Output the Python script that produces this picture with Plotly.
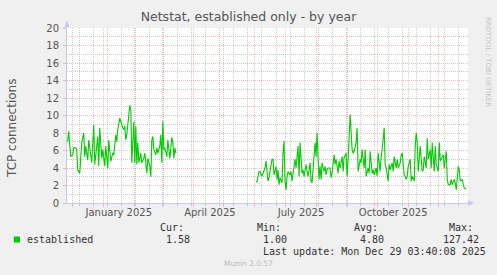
import plotly.graph_objects as go
import pandas as pd

# ---- data ----
# day offsets from 2024-12-01, and daily established TCP connections
day_offset = [
    -5, -4, -2, 0, 1, 3, 4, 5, 7, 9,
    11, 12, 13, 15, 16, 17, 19, 21, 22, 25,
    26, 27, 29, 30, 32, 33, 35, 36, 38, 40,
    41, 43, 44, 45, 47, 50, 51, 52, 53, 54,
    57, 58, 59, 61, 62, 63, 64, 65, 66, 68,
    69, 71, 72, 74, 75, 77, 78, 79, 80, 81,
    83, 84, 85, 87, 88, 89, 90, 91, 92, 94,
    95, 97, 98, 99, 100, 101, 102, 103,
    140,
    183, 184, 186, 187, 189, 191, 192, 193, 195, 196,
    197, 199, 200, 201, 203, 204, 205, 206, 207, 209,
    210, 211, 212, 213, 214, 215, 217, 218, 219, 221,
    222, 223, 225, 226, 227, 229, 230, 231, 233, 234,
    235, 237, 238, 239, 241, 242, 243, 244, 245, 246,
    247, 248, 249, 250, 251, 252, 253, 254, 255, 257,
    258, 259, 261, 262, 263, 265, 266, 267, 269, 270,
    271, 273, 274, 275, 276, 277, 279, 280, 281, 283,
    284, 285, 287, 288, 289, 291, 292, 293, 295, 296,
    297, 299, 300, 301, 303, 304, 305, 307, 308, 309,
    311, 312, 313, 315, 316, 317, 319, 320, 321, 323,
    324, 325, 327, 328, 329, 331, 332, 333, 334, 335,
    337, 338, 339, 341, 342, 343, 344, 345, 346, 347,
    349, 350, 351, 353, 354, 355, 357, 358, 359, 361,
    362, 363, 365, 366, 367, 369, 370, 371, 373, 374,
    375, 377, 378, 379, 381, 382, 383, 385, 386, 387,
    389, 390, 391, 393,
]
connections = [
    7.0, 8.2, 5.3, 5.5, 6.3, 6.3, 6.1, 3.8, 3.4, 6.9,
    8.0, 5.3, 6.5, 4.9, 7.2, 6.1, 4.6, 8.9, 4.4, 7.6,
    4.2, 8.6, 5.1, 6.1, 4.2, 6.5, 4.0, 7.2, 4.75, 5.7,
    5.5, 7.8, 7.0, 8.4, 9.7, 8.6, 8.4, 8.8, 7.2, 7.8,
    11.2, 10.6, 4.6, 9.3, 4.6, 8.8, 4.4, 6.9, 4.6, 5.7,
    4.6, 5.1, 5.7, 3.4, 5.1, 4.2, 3.0, 7.2, 7.6, 6.1,
    5.5, 6.3, 5.7, 6.5, 7.8, 4.6, 9.3, 6.1, 6.3, 5.3,
    7.2, 5.1, 6.1, 7.5, 6.9, 5.1, 6.3, 5.7,
    None,
    2.5, 2.4, 3.6, 3.6, 3.05, 3.8, 4.0, 4.8, 2.5, 2.9,
    3.8, 5.0, 5.0, 3.2, 4.2, 2.7, 3.8, 2.1, 2.9, 2.3,
    5.7, 7.1, 2.5, 1.5, 3.05, 3.6, 3.2, 3.6, 2.5, 4.6,
    5.0, 4.0, 6.5, 3.05, 6.9, 3.4, 3.8, 3.05, 4.4, 3.6,
    3.05, 4.6, 2.5, 2.3, 4.8, 6.9, 5.3, 8.0, 5.2, 2.7,
    4.2, 2.7, 4.6, 3.8, 3.6, 4.2, 3.2, 3.8, 4.0, 4.0,
    2.9, 3.4, 5.5, 4.4, 5.0, 3.4, 4.8, 4.0, 5.3, 3.6,
    5.2, 5.7, 3.05, 5.0, 8.4, 10.1, 6.1, 5.7, 5.9, 6.9,
    8.6, 3.6, 5.0, 4.6, 6.1, 4.0, 6.1, 3.05, 4.0, 3.4,
    5.9, 3.4, 3.8, 3.2, 4.0, 3.05, 5.7, 3.6, 5.3, 6.1,
    8.6, 4.4, 4.0, 2.5, 4.4, 3.8, 4.6, 3.6, 5.3, 4.0,
    5.0, 4.0, 4.6, 5.5, 5.7, 3.2, 3.05, 2.7, 3.05, 4.2,
    5.0, 2.5, 3.05, 2.5, 6.5, 8.0, 6.9, 3.6, 5.0, 6.5,
    3.6, 3.8, 5.3, 4.0, 7.4, 5.0, 6.1, 4.0, 6.9, 3.6,
    6.5, 4.4, 3.6, 6.9, 4.8, 5.2, 5.5, 4.0, 5.9, 2.7,
    2.1, 2.1, 2.7, 2.1, 2.7, 2.3, 1.5, 4.2, 3.8, 2.5,
    2.7, 2.1, 1.7, 1.6,
]

month_label_dates = ["2025-01-16", "2025-04-17", "2025-07-17", "2025-10-17"]
month_labels = ["January 2025", "April 2025", "July 2025", "October 2025"]

series_name = "established"
stat_names = ["Cur:", "Min:", "Avg:", "Max:"]
stat_values = ["1.58", "1.00", "4.80", "127.42"]
last_update = "Last update: Mon Dec 29 03:40:08 2025"

base = pd.Timestamp("2024-12-01")
dates = [base + pd.Timedelta(days=d) for d in day_offset]
x_range = ["2024-11-25 07:00", "2025-12-30 17:00"]

# ---- layout geometry (pixels) ----
W, H = 497, 275
L, R, T, B = 67, 468, 28, 203


def px(x):
    return (x - L) / (R - L)


def py(y):
    return (B - y) / (B - T)


RED = "rgba(225,110,110,0.45)"
GRAY = "rgba(180,180,180,0.7)"
AXIS = "#C8C8F4"
TXT = "#555555"
FONT = "DejaVu Sans"
MONO = "DejaVu Sans Mono"

fig = go.Figure()
fig.add_trace(go.Scatter(
    x=dates, y=connections, mode="lines", name=series_name,
    line=dict(color="#00CC00", width=1.1), connectgaps=False,
    showlegend=False,
))
# carrier trace so the label axis (x2) is drawn; it has no visible marks
fig.add_trace(go.Scatter(
    x=month_label_dates, y=[None] * len(month_label_dates), xaxis="x2",
    mode="lines", showlegend=False, hoverinfo="skip",
))

fig.update_layout(
    width=W, height=H,
    margin=dict(l=L, r=W - R, t=T, b=H - B),
    paper_bgcolor="#F0F0F0", plot_bgcolor="white",
    font=dict(family=FONT, color=TXT),
    title=dict(text="Netstat, established only - by year",
               x=0.5, xref="container", xanchor="center",
               y=1 - 17 / H, yref="container", yanchor="middle",
               font=dict(size=12.5, color=TXT, family=FONT)),
    xaxis=dict(
        type="date", range=x_range,
        dtick="M1", tick0="2024-12-01",
        showgrid=True, gridcolor=RED, griddash="1px,1px", gridwidth=1,
        showticklabels=False, ticks="outside", ticklen=3, tickcolor=RED,
        showline=True, linecolor=AXIS, linewidth=1, zeroline=False,
        minor=dict(dtick=14 * 86400000, tick0="2024-12-08",
                   showgrid=True, gridcolor=GRAY, griddash="1px,1px",
                   ticks="outside", ticklen=2, tickcolor=GRAY),
    ),
    xaxis2=dict(
        type="date", range=x_range, overlaying="x", anchor="y", side="bottom",
        tickvals=month_label_dates, ticktext=month_labels,
        showgrid=False, ticks="", showline=False, zeroline=False,
        tickfont=dict(size=10, color=TXT, family=FONT),
        ticklabelstandoff=2,
    ),
    yaxis=dict(
        range=[0, 20], dtick=2, tick0=0,
        showgrid=True, gridcolor=RED, griddash="1px,1px", gridwidth=1,
        ticks="outside", ticklen=3, tickcolor=RED,
        showline=True, linecolor=AXIS, linewidth=1, zeroline=False,
        tickfont=dict(size=10, color=TXT, family=FONT),
        ticklabelstandoff=2,
        minor=dict(dtick=1, showgrid=True, gridcolor=GRAY, griddash="1px,1px"),
    ),
)

ann = []
ann.append(dict(text="TCP connections", textangle=-90, x=px(12), y=py(129),
                xref="paper", yref="paper", showarrow=False,
                font=dict(size=12, color=TXT, family=FONT),
                xanchor="center", yanchor="middle"))
ann.append(dict(text="RRDTOOL / TOBI OETIKER", textangle=90, x=px(488), y=py(62),
                xref="paper", yref="paper", showarrow=False,
                font=dict(size=7, color="#C4C4C4", family=FONT),
                xanchor="center", yanchor="middle"))
ann.append(dict(text=series_name, x=px(25), y=py(239.7), xref="paper", yref="paper",
                showarrow=False, xanchor="left", yanchor="middle",
                font=dict(size=10, color="#333333", family=MONO)))
stat_x_names = [158, 255, 351.5, 446.5]
stat_x_vals = [164, 261, 357.5, 441]
for nm, vl, xn, xv in zip(stat_names, stat_values, stat_x_names, stat_x_vals):
    ann.append(dict(text=nm, x=px(xn), y=py(227.7), xref="paper", yref="paper",
                    showarrow=False, xanchor="left", yanchor="middle",
                    font=dict(size=10, color="#333333", family=MONO)))
    ann.append(dict(text=vl, x=px(xv), y=py(239.7), xref="paper", yref="paper",
                    showarrow=False, xanchor="left", yanchor="middle",
                    font=dict(size=10, color="#333333", family=MONO)))
ann.append(dict(text=last_update, x=px(261), y=py(251.7), xref="paper", yref="paper",
                showarrow=False, xanchor="left", yanchor="middle",
                font=dict(size=10, color="#333333", family=MONO)))
ann.append(dict(text="Munin 2.0.57", x=px(248), y=py(263.5), xref="paper", yref="paper",
                showarrow=False, xanchor="center", yanchor="middle",
                font=dict(size=7.5, color="#BBBBBB", family=FONT)))
fig.update_layout(annotations=ann)

shapes = []
# legend colour square
shapes.append(dict(type="rect", xref="paper", yref="paper",
                   x0=px(14), x1=px(20), y0=py(242.5), y1=py(236.5),
                   fillcolor="#00CC00", line=dict(width=0)))
# axis arrows
shapes.append(dict(type="path", xref="paper", yref="paper",
                   path=f"M {px(67)},{py(20.5)} L {px(64.3)},{py(27.5)} L {px(69.7)},{py(27.5)} Z",
                   fillcolor=AXIS, line=dict(width=0)))
shapes.append(dict(type="path", xref="paper", yref="paper",
                   path=f"M {px(474.5)},{py(203)} L {px(468)},{py(200.3)} L {px(468)},{py(205.7)} Z",
                   fillcolor=AXIS, line=dict(width=0)))
fig.update_layout(shapes=shapes)

fig.write_html("out.html")
